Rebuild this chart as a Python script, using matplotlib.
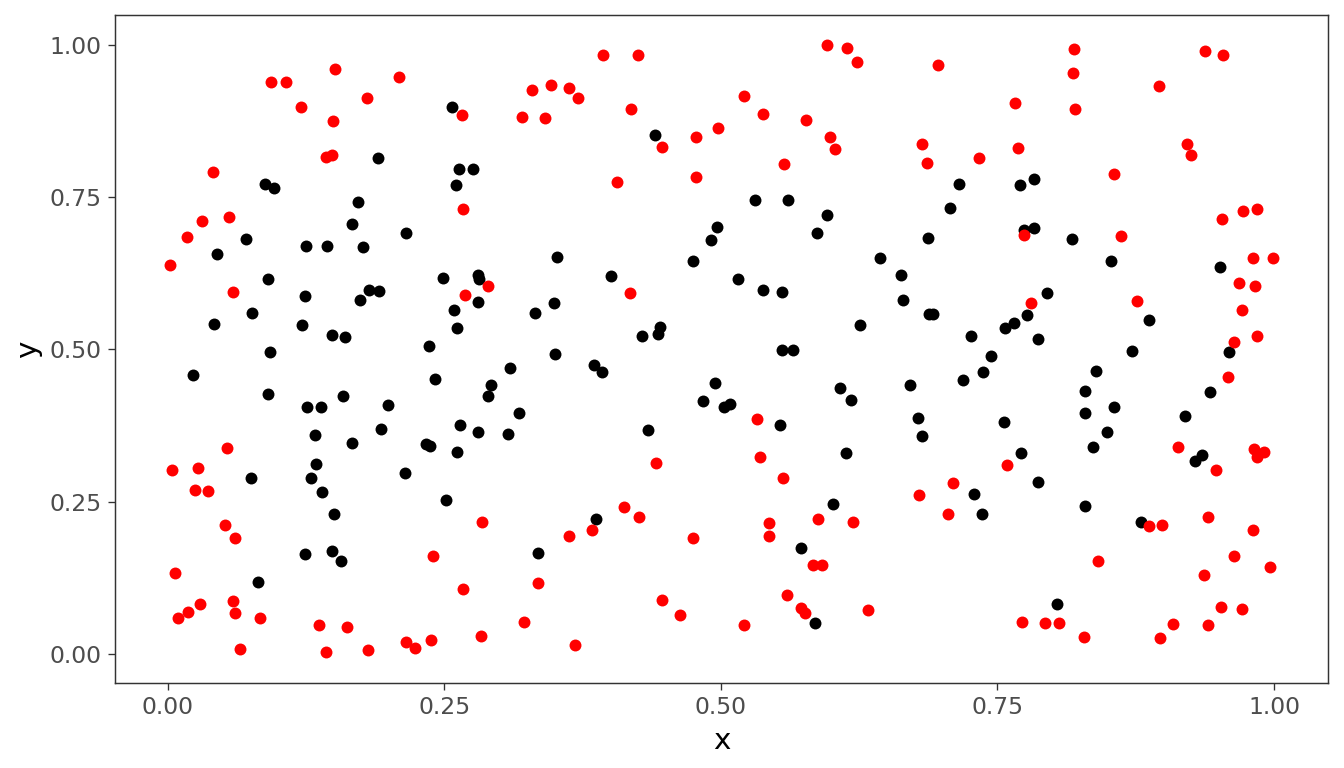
import matplotlib
matplotlib.use("Agg")
import matplotlib.pyplot as plt
import numpy as np

plt.rcParams["font.family"] = ["DejaVu Sans"]

# black points (inside)
x_black = [0.257, 0.190, 0.263, 0.276, 0.260, 0.088, 0.096, 0.172, 0.166, 0.215,
           0.071, 0.044, 0.125, 0.144, 0.176, 0.090, 0.124, 0.182, 0.191, 0.174,
           0.249, 0.280, 0.281, 0.280, 0.259, 0.076, 0.042, 0.121, 0.148, 0.160,
           0.261, 0.236, 0.092, 0.023, 0.090, 0.126, 0.138, 0.158, 0.199, 0.193,
           0.133, 0.166, 0.241, 0.309, 0.292, 0.289, 0.317, 0.264, 0.280, 0.307,
           0.233, 0.237, 0.261, 0.134, 0.129, 0.139, 0.075, 0.214, 0.251, 0.150,
           0.124, 0.148, 0.156, 0.081, 0.440, 0.531, 0.561, 0.596, 0.587, 0.496,
           0.491, 0.352, 0.475, 0.644, 0.663, 0.665, 0.401, 0.515, 0.538, 0.555,
           0.349, 0.332, 0.626, 0.429, 0.443, 0.445, 0.350, 0.555, 0.565, 0.687,
           0.385, 0.392, 0.495, 0.484, 0.503, 0.508, 0.553, 0.434, 0.608, 0.618,
           0.671, 0.678, 0.682, 0.613, 0.601, 0.387, 0.335, 0.572, 0.585, 0.715,
           0.770, 0.783, 0.707, 0.774, 0.783, 0.817, 0.853, 0.951, 0.795, 0.688,
           0.692, 0.777, 0.757, 0.765, 0.726, 0.787, 0.887, 0.744, 0.872, 0.959,
           0.737, 0.719, 0.756, 0.771, 0.787, 0.729, 0.736, 0.839, 0.829, 0.829,
           0.855, 0.849, 0.836, 0.829, 0.942, 0.920, 0.935, 0.929, 0.880, 0.804]
y_black = [0.898, 0.814, 0.796, 0.796, 0.771, 0.772, 0.766, 0.743, 0.707, 0.691,
           0.681, 0.657, 0.670, 0.670, 0.669, 0.616, 0.588, 0.597, 0.596, 0.581,
           0.618, 0.623, 0.616, 0.578, 0.565, 0.560, 0.542, 0.541, 0.523, 0.520,
           0.536, 0.505, 0.496, 0.458, 0.427, 0.406, 0.406, 0.424, 0.409, 0.370,
           0.360, 0.346, 0.451, 0.469, 0.442, 0.424, 0.396, 0.376, 0.365, 0.361,
           0.345, 0.341, 0.332, 0.312, 0.288, 0.266, 0.289, 0.297, 0.253, 0.229,
           0.163, 0.168, 0.152, 0.117, 0.852, 0.746, 0.745, 0.721, 0.691, 0.701,
           0.680, 0.652, 0.646, 0.650, 0.623, 0.581, 0.620, 0.616, 0.598, 0.595,
           0.577, 0.560, 0.541, 0.522, 0.525, 0.537, 0.493, 0.499, 0.499, 0.684,
           0.475, 0.463, 0.445, 0.416, 0.406, 0.410, 0.376, 0.368, 0.436, 0.417,
           0.442, 0.388, 0.357, 0.329, 0.246, 0.221, 0.165, 0.173, 0.050, 0.772,
           0.770, 0.781, 0.733, 0.696, 0.699, 0.681, 0.645, 0.636, 0.593, 0.559,
           0.558, 0.557, 0.535, 0.543, 0.522, 0.518, 0.549, 0.489, 0.498, 0.496,
           0.463, 0.450, 0.381, 0.330, 0.282, 0.262, 0.230, 0.464, 0.431, 0.396,
           0.405, 0.364, 0.339, 0.242, 0.430, 0.390, 0.327, 0.316, 0.216, 0.081]

# red points (outside)
x_red = [0.151, 0.093, 0.107, 0.209, 0.120, 0.180, 0.149, 0.266, 0.320, 0.143,
         0.148, 0.041, 0.055, 0.031, 0.017, 0.002, 0.059, 0.267, 0.289, 0.269,
         0.053, 0.004, 0.027, 0.024, 0.036, 0.052, 0.061, 0.006, 0.029, 0.018,
         0.009, 0.059, 0.061, 0.083, 0.065, 0.137, 0.162, 0.143, 0.181, 0.215,
         0.223, 0.238, 0.283, 0.322, 0.284, 0.240, 0.267, 0.393, 0.425, 0.329,
         0.346, 0.363, 0.371, 0.341, 0.419, 0.447, 0.406, 0.477, 0.497, 0.477,
         0.521, 0.538, 0.577, 0.596, 0.614, 0.623, 0.599, 0.603, 0.557, 0.418,
         0.533, 0.535, 0.556, 0.441, 0.412, 0.426, 0.383, 0.363, 0.475, 0.543,
         0.543, 0.588, 0.619, 0.679, 0.583, 0.591, 0.335, 0.368, 0.447, 0.463,
         0.521, 0.560, 0.572, 0.576, 0.633, 0.696, 0.819, 0.818, 0.820, 0.766,
         0.938, 0.954, 0.896, 0.682, 0.686, 0.733, 0.769, 0.855, 0.921, 0.925,
         0.953, 0.972, 0.985, 0.862, 0.774, 0.981, 0.999, 0.968, 0.983, 0.971,
         0.985, 0.964, 0.780, 0.876, 0.958, 0.913, 0.948, 0.982, 0.991, 0.985,
         0.759, 0.710, 0.705, 0.887, 0.899, 0.940, 0.981, 0.841, 0.964, 0.937,
         0.996, 0.952, 0.971, 0.772, 0.793, 0.806, 0.828, 0.909, 0.897, 0.940]
y_red = [0.961, 0.940, 0.939, 0.948, 0.899, 0.914, 0.875, 0.886, 0.882, 0.817,
         0.819, 0.791, 0.718, 0.712, 0.685, 0.639, 0.595, 0.731, 0.605, 0.589,
         0.338, 0.302, 0.305, 0.269, 0.268, 0.211, 0.190, 0.132, 0.082, 0.069,
         0.059, 0.087, 0.067, 0.058, 0.008, 0.047, 0.043, 0.002, 0.006, 0.019,
         0.010, 0.022, 0.029, 0.052, 0.216, 0.160, 0.107, 0.984, 0.984, 0.927,
         0.934, 0.930, 0.914, 0.881, 0.896, 0.833, 0.776, 0.849, 0.864, 0.783,
         0.917, 0.887, 0.878, 1.000, 0.996, 0.972, 0.850, 0.830, 0.805, 0.593,
         0.385, 0.324, 0.289, 0.313, 0.241, 0.224, 0.203, 0.193, 0.190, 0.215,
         0.193, 0.222, 0.216, 0.260, 0.146, 0.146, 0.116, 0.014, 0.088, 0.064,
         0.047, 0.096, 0.075, 0.066, 0.072, 0.967, 0.994, 0.955, 0.895, 0.905,
         0.990, 0.984, 0.933, 0.837, 0.806, 0.814, 0.832, 0.788, 0.837, 0.820,
         0.714, 0.727, 0.731, 0.686, 0.689, 0.651, 0.650, 0.610, 0.605, 0.565,
         0.522, 0.513, 0.577, 0.579, 0.455, 0.339, 0.302, 0.337, 0.331, 0.324,
         0.310, 0.281, 0.229, 0.209, 0.211, 0.224, 0.204, 0.152, 0.161, 0.130,
         0.142, 0.076, 0.074, 0.052, 0.051, 0.050, 0.027, 0.048, 0.026, 0.047]

ticks = [0.0, 0.25, 0.5, 0.75, 1.0]
tick_labels = ["0.00", "0.25", "0.50", "0.75", "1.00"]

fig = plt.figure(figsize=(7, 4), dpi=192)
ax = fig.add_axes([0.0856, 0.111, 0.9025, 0.8695])

ax.scatter(x_black, y_black, s=20, color="black", linewidths=0, zorder=2)
ax.scatter(x_red, y_red, s=20, color="red", linewidths=0, zorder=3)

ax.margins(0.05)
ax.set_xticks(ticks, tick_labels)
ax.set_yticks(ticks, tick_labels)
ax.tick_params(colors="#333333", labelcolor="#4D4D4D", labelsize=8.8,
               length=2.75, width=0.5, pad=2.2)
for sp in ax.spines.values():
    sp.set_color("#333333")
    sp.set_linewidth(0.55)

ax.set_xlabel("x", fontsize=11, labelpad=3)
ax.set_ylabel("y", fontsize=11, labelpad=3)

fig.savefig("out.png", dpi=192)
